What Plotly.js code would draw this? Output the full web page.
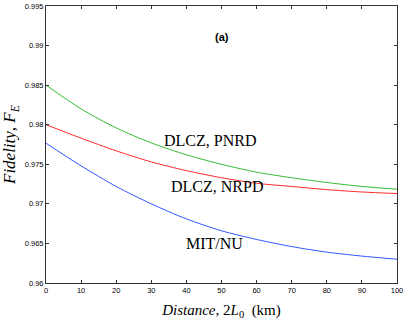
<!DOCTYPE html>
<html><head><meta charset="utf-8">
<script src="https://cdn.plot.ly/plotly-3.0.1.min.js"></script>
<style>html,body{margin:0;padding:0;background:#fff}#c{width:415px;height:326px}</style>
</head><body><div id="c"></div>
<script>
const distance = [0,10,20,30,40,50,60,70,80,90,100];
const dlczPnrd = [0.9850,0.9820,0.9796,0.9777,0.9762,0.9750,0.9740,0.9733,0.9727,0.9722,0.97185];
const dlczNrpd = [0.9800,0.9783,0.9767,0.9753,0.9742,0.9733,0.9726,0.9722,0.9718,0.9715,0.9713];
const mitNu    = [0.97766,0.9748,0.9722,0.9700,0.9681,0.9666,0.9655,0.9646,0.9639,0.9634,0.9630];
const xTicks = [0,10,20,30,40,50,60,70,80,90,100];
const yTicks = [0.96,0.965,0.97,0.975,0.98,0.985,0.99,0.995];
const yTickText = ["0.96","0.965","0.97","0.975","0.98","0.985","0.99","0.995"];
const labels = [
  {text:"DLCZ, PNRD", x:46.7, y:0.97798},
  {text:"DLCZ, NRPD", x:48.6, y:0.97217},
  {text:"MIT/NU", x:47.9, y:0.96502}
];
const SERIF = 'Liberation Serif';
const SANS = 'Liberation Sans';
const mk = (y,c)=>({x:distance,y:y,mode:'lines',type:'scatter',line:{color:c,width:1,shape:'spline',smoothing:0.8},hoverinfo:'skip',showlegend:false});
const data = [mk(dlczPnrd,'#33bb33'), mk(dlczNrpd,'#ff2a2a'), mk(mitNu,'#3355ff')];
const axisCommon = {showgrid:false,zeroline:false,showline:true,linecolor:'#333',linewidth:1,mirror:'ticks',
  ticks:'inside',ticklen:3,tickcolor:'#333',tickfont:{family:SANS,size:7.5,color:'#000'}};
const layout = {
  width:415,height:326,margin:{l:46,r:18,t:6,b:43},paper_bgcolor:'#fff',plot_bgcolor:'#fff',
  font:{family:SERIF},
  xaxis:Object.assign({},axisCommon,{range:[0,100],tickvals:xTicks,ticktext:xTicks.map(String),
    title:{text:'<i>Distance</i>, 2<i>L</i><sub>0</sub>  (km)',font:{family:SERIF,size:15,color:'#000'},standoff:10}}),
  yaxis:Object.assign({},axisCommon,{range:[0.96,0.995],tickvals:yTicks,ticktext:yTickText,
    title:{text:'<i>Fidelity</i>, <i>F</i><sub><i>E</i></sub>',font:{family:SERIF,size:17,color:'#000'},standoff:5}}),
  annotations: labels.map(l=>({x:l.x,y:l.y,xref:'x',yref:'y',text:l.text,showarrow:false,
    font:{family:SERIF,size:16,color:'#000'}})).concat([
    {x:50.1,y:0.99108,xref:'x',yref:'y',text:'<b>(a)</b>',showarrow:false,font:{family:SANS,size:11,color:'#000'}}])
};
Plotly.newPlot('c',data,layout,{staticPlot:true,displayModeBar:false});
</script></body></html>
